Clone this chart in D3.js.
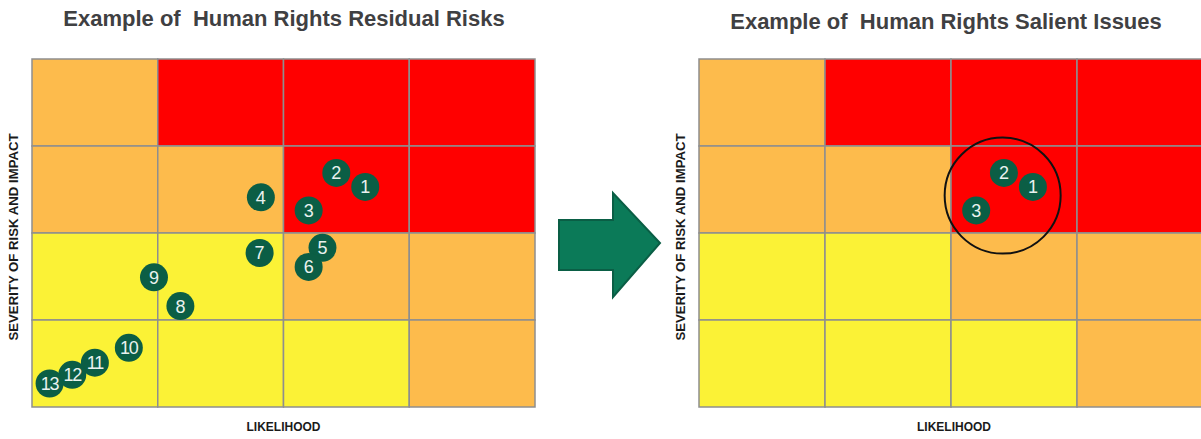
<!DOCTYPE html>
<html>
<head>
<meta charset="utf-8">
<script src="https://cdn.jsdelivr.net/npm/d3@7"></script>
<style>
  html, body { margin: 0; padding: 0; background: #ffffff; }
  svg { display: block; font-family: "Liberation Sans", Arial, Helvetica, sans-serif; }
  text { white-space: pre; }
</style>
</head>
<body>
<svg id="chart" width="1201" height="439"></svg>
<script>
// Risk levels per cell, rows listed from highest severity down, columns by likelihood
const riskLevels = [
  ["medium", "high",   "high",   "high"],
  ["medium", "medium", "high",   "high"],
  ["low",    "low",    "medium", "medium"],
  ["low",    "low",    "low",    "medium"]
];

// Residual risks: id, likelihood (0-4), severity (0-4)
const riskIds        = [1, 2, 3, 4, 5, 6, 7, 8, 9, 10, 11, 12, 13];
const riskLikelihood = [2.65, 2.42, 2.20, 1.82, 2.31, 2.20, 1.81, 1.18, 0.97, 0.77, 0.50, 0.32, 0.14];
const riskSeverity   = [2.53, 2.69, 2.26, 2.41, 1.83, 1.61, 1.77, 1.16, 1.49, 0.68, 0.51, 0.37, 0.27];

// Salient issues are the three highest residual risks
const salientIds = [1, 2, 3];
const salientRing = { likelihood: 2.41, severity: 2.43 };

const titles = ["Example of  Human Rights Residual Risks", "Example of  Human Rights Salient Issues"];
const xAxisLabel = "LIKELIHOOD";
const yAxisLabel = "SEVERITY OF RISK AND IMPACT";

const levelColor = { low: "#FBF236", medium: "#FDBB4C", high: "#FF0000" };
const markerFill = "#0B5E45";
const gridStroke = "#8E8E8E";

const risks = riskIds.map((id, i) => ({ id, likelihood: riskLikelihood[i], severity: riskSeverity[i] }));
const salient = risks.filter(d => salientIds.includes(d.id));

const svg = d3.select("#chart");

function drawMatrix(panel) {
  const g = svg.append("g");
  const x = d3.scaleLinear().domain([0, 4]).range([panel.left, panel.left + panel.width]);
  const y = d3.scaleLinear().domain([0, 4]).range([panel.bottom, panel.top]);

  const cells = [];
  riskLevels.forEach((row, r) => row.forEach((level, c) => {
    cells.push({ col: c, sev: 3 - r, level });
  }));

  g.selectAll("rect.cell")
    .data(cells)
    .join("rect")
    .attr("class", "cell")
    .attr("x", d => x(d.col))
    .attr("y", d => y(d.sev + 1))
    .attr("width", d => x(d.col + 1) - x(d.col))
    .attr("height", d => y(d.sev) - y(d.sev + 1))
    .attr("fill", d => levelColor[d.level])
    .attr("stroke", gridStroke)
    .attr("stroke-width", 1.5);

  // title
  g.append("text")
    .attr("x", panel.titleX)
    .attr("y", panel.titleY)
    .attr("text-anchor", "middle")
    .attr("font-size", 22)
    .attr("font-weight", "bold")
    .attr("fill", "#3F4042")
    .text(panel.title);

  // axis labels
  g.append("text")
    .attr("x", (x(0) + x(4)) / 2 + panel.xLabelShift)
    .attr("y", 431)
    .attr("text-anchor", "middle")
    .attr("font-size", 12)
    .attr("font-weight", "bold")
    .attr("fill", "#1a1a1a")
    .text(xAxisLabel);

  g.append("text")
    .attr("transform", `translate(${panel.left - 14},${(y(0) + y(4)) / 2 + 4}) rotate(-90)`)
    .attr("text-anchor", "middle")
    .attr("font-size", 13.2)
    .attr("font-weight", "bold")
    .attr("fill", "#1a1a1a")
    .text(yAxisLabel);

  // markers
  const m = g.selectAll("g.marker")
    .data(panel.points)
    .join("g")
    .attr("class", "marker")
    .attr("transform", d => `translate(${x(d.likelihood)},${y(d.severity)})`);

  m.append("circle")
    .attr("r", 14)
    .attr("fill", markerFill);

  m.append("text")
    .attr("text-anchor", "middle")
    .attr("dy", "0.36em")
    .attr("font-size", 18)
    .attr("fill", "#EAF2EF")
    .attr("letter-spacing", d => d.id >= 10 ? -1.2 : 0)
    .text(d => d.id);

  return { g, x, y };
}

drawMatrix({
  left: 32, width: 503, top: 59, bottom: 407,
  title: titles[0], titleX: 284, titleY: 26, xLabelShift: 0,
  points: risks
});

const right = drawMatrix({
  left: 699, width: 504, top: 59, bottom: 407,
  title: titles[1], titleX: 946, titleY: 28.5, xLabelShift: 3,
  points: salient
});

// ring around the salient cluster
right.g.append("circle")
  .attr("cx", right.x(salientRing.likelihood))
  .attr("cy", right.y(salientRing.severity))
  .attr("r", 58)
  .attr("fill", "none")
  .attr("stroke", "#111111")
  .attr("stroke-width", 2);

// block arrow between the two matrices
const arrow = d3.path();
arrow.moveTo(559, 220);
arrow.lineTo(613, 220);
arrow.lineTo(613, 193);
arrow.lineTo(660, 243);
arrow.lineTo(613, 297);
arrow.lineTo(613, 270);
arrow.lineTo(559, 270);
arrow.closePath();

svg.append("path")
  .attr("d", arrow.toString())
  .attr("fill", "#0B7A58")
  .attr("stroke", "#0A5E45")
  .attr("stroke-width", 2)
  .attr("stroke-linejoin", "miter");
</script>
</body>
</html>
